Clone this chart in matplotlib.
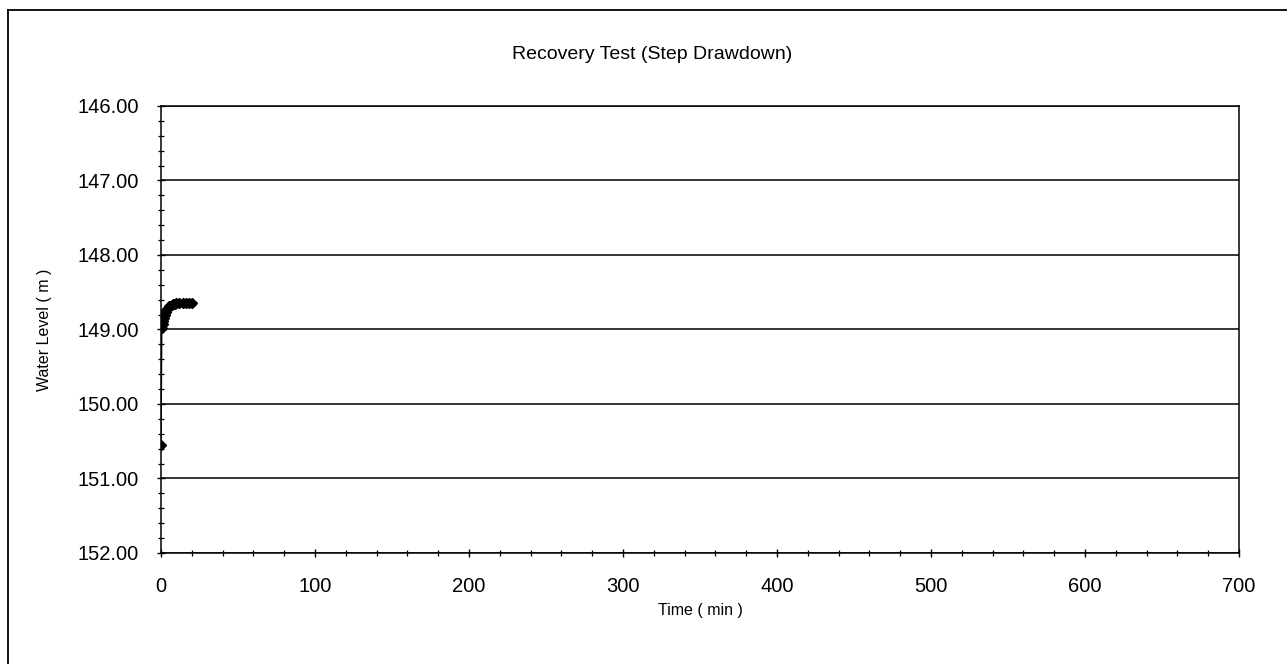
#!/usr/bin/env python3
"""Recovery test (step drawdown): water level vs time."""

import matplotlib
import numpy as np

matplotlib.use("Agg")
import matplotlib.pyplot as plt
from matplotlib.lines import Line2D
from matplotlib.ticker import MultipleLocator, FormatStrFormatter

plt.rcParams["font.family"] = ["Liberation Sans", "DejaVu Sans"]

# readings (min, m)
time_min = [0, 0.5, 1, 1.5, 2, 2.5, 3, 3.5, 4, 5, 6, 7, 8, 9, 10, 12, 14, 16, 18, 20]
water_level = [150.55, 148.98, 148.93, 148.88, 148.84, 148.80, 148.77, 148.74, 148.72,
               148.69, 148.68, 148.67, 148.66, 148.66, 148.65, 148.65, 148.65, 148.64,
               148.64, 148.64]

x_ticks = [0, 100, 200, 300, 400, 500, 600, 700]
y_ticks = [146, 147, 148, 149, 150, 151, 152]


def main() -> None:
    fig = plt.figure(figsize=(12.87, 6.64), dpi=100)
    ax = fig.add_axes([0.1251, 0.1672, 0.8376, 0.6732])

    for yv in y_ticks:
        ax.axhline(yv, color="black", lw=1.1, zorder=1)

    ax.plot(time_min, water_level, color="black", lw=1.0, marker="D",
            markersize=5, markerfacecolor="black", markeredgecolor="black", zorder=3)

    ax.set_xlim(0, 700)
    ax.set_ylim(152, 146)
    ax.set_xticks(x_ticks)
    ax.set_yticks(y_ticks)
    ax.xaxis.set_minor_locator(MultipleLocator(20))
    ax.yaxis.set_minor_locator(MultipleLocator(0.2))
    ax.yaxis.set_major_formatter(FormatStrFormatter("%.2f"))
    ax.tick_params(axis="both", which="major", direction="inout", length=6,
                   width=1.0, labelsize=14.5, color="black")
    ax.tick_params(axis="both", which="minor", direction="inout", length=4, width=0.9)
    ax.tick_params(axis="x", which="major", pad=14)
    ax.tick_params(axis="y", which="major", pad=13)
    for sp in ax.spines.values():
        sp.set_color("black")
        sp.set_linewidth(1.1)

    ax.set_xlabel("Time ( min )", fontsize=11.5, labelpad=5)
    ax.set_ylabel("Water Level ( m )", fontsize=11.5, labelpad=18)
    fig.text(0.507, 0.918, "Recovery Test (Step Drawdown)", ha="center", va="center",
             fontsize=14)

    # outer chart frame (top and left edges visible)
    fig.add_artist(Line2D([0.006, 1.0], [0.985, 0.985], color="black", lw=1.3,
                          transform=fig.transFigure))
    fig.add_artist(Line2D([0.006, 0.006], [0.0, 0.985], color="black", lw=1.3,
                          transform=fig.transFigure))

    fig.savefig("out.png", dpi=100)
    plt.close(fig)


if __name__ == "__main__":
    main()
